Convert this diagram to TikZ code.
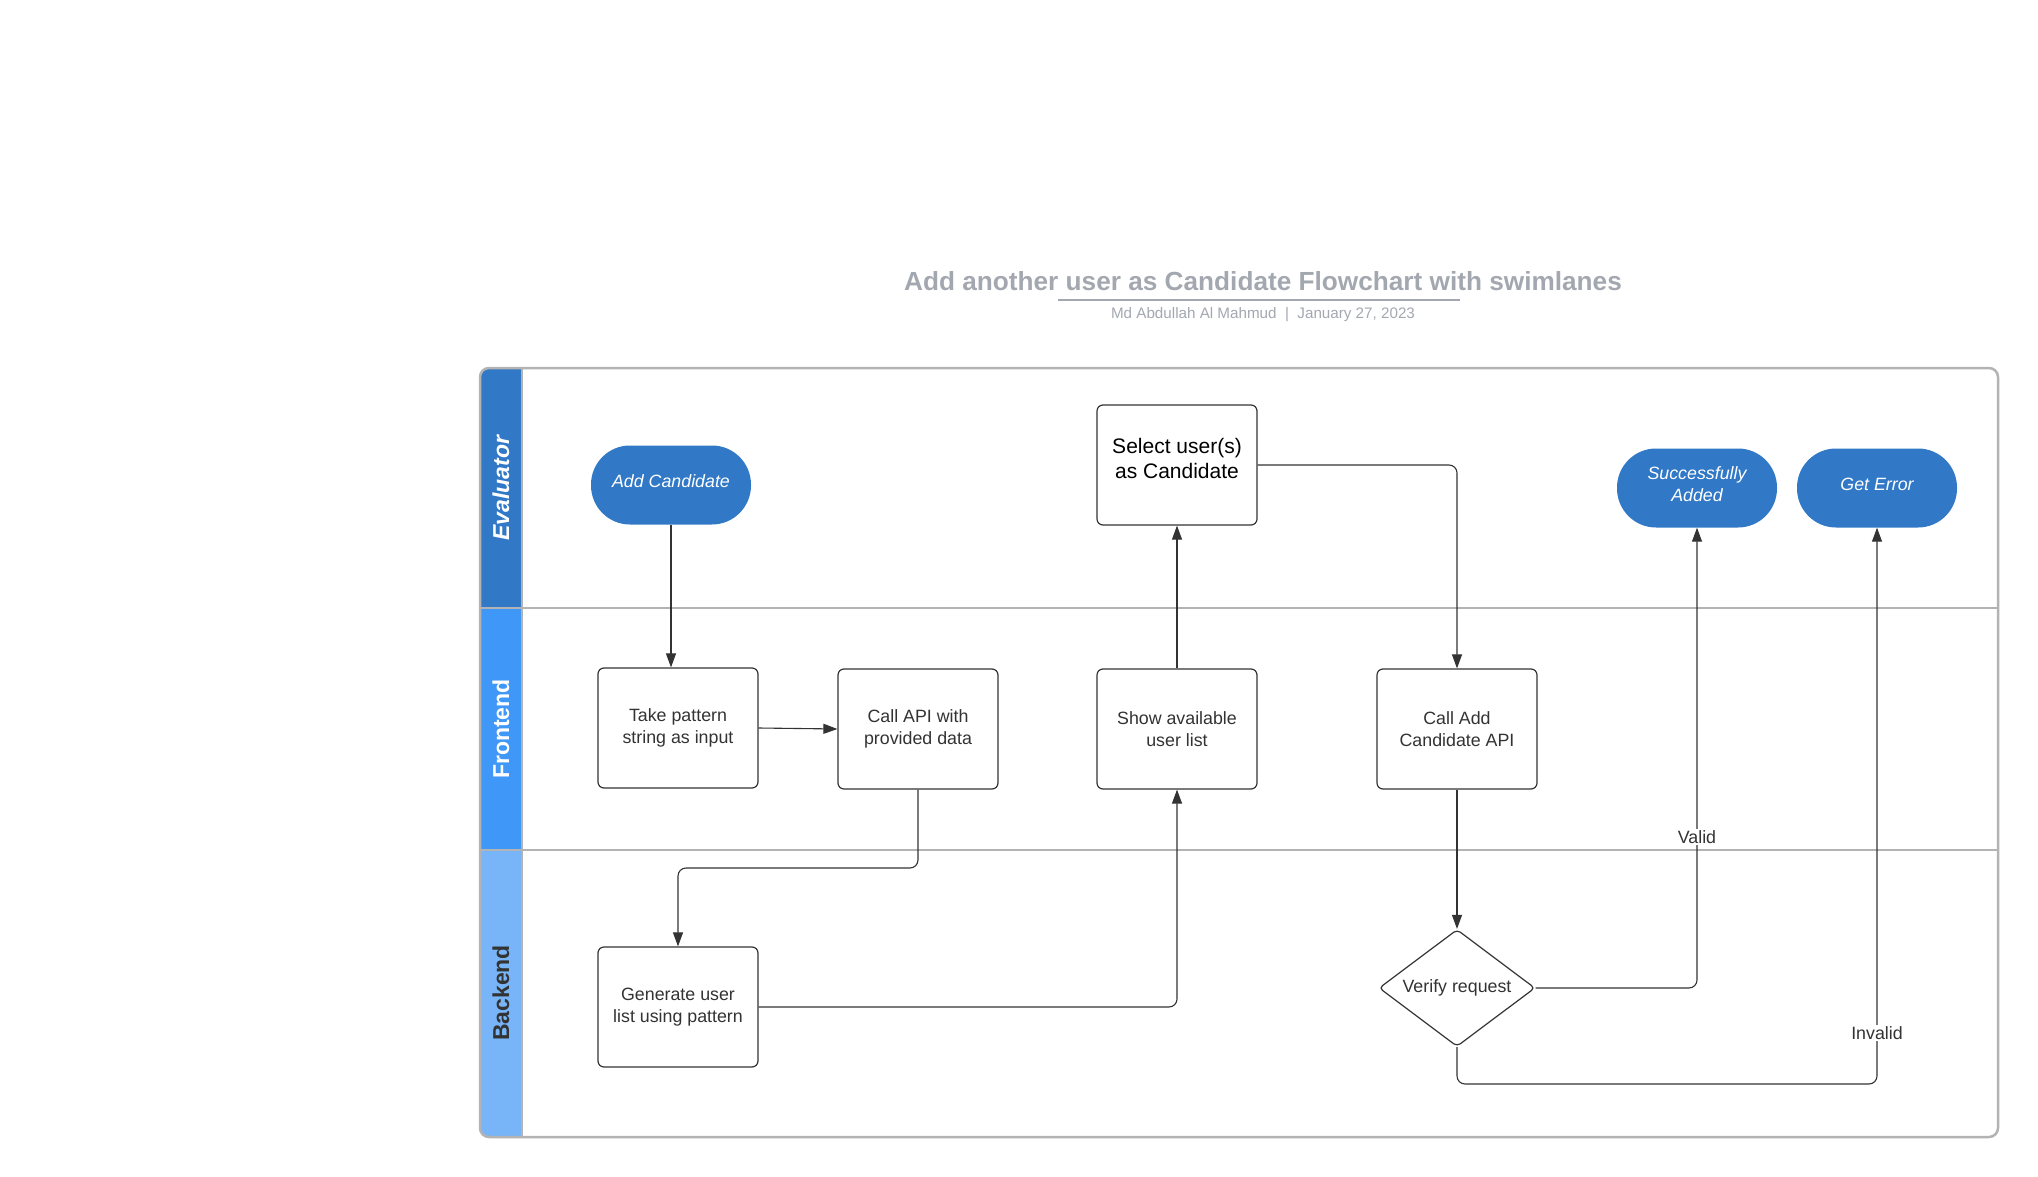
\documentclass[tikz,border=0pt]{standalone}
\usepackage{fontspec}
\setmainfont{Liberation Sans}
\usetikzlibrary{arrows.meta,shapes.geometric,calc}
\definecolor{evalc}{HTML}{3178C6}
\definecolor{frontc}{HTML}{3F97F7}
\definecolor{backc}{HTML}{78B5F8}
\definecolor{framec}{HTML}{B3B3B3}
\definecolor{linec}{HTML}{333333}
\definecolor{titlec}{HTML}{A3A7B0}
\tikzset{
  box/.style={draw=linec, line width=1.2pt, rounded corners=6pt, fill=white,
    minimum width=160pt, minimum height=120pt, align=center, text=linec,
    font=\fontsize{17.8}{21.5}\selectfont, inner sep=2pt},
  term/.style={fill=evalc, rounded corners=39pt, minimum width=160pt, minimum height=79pt,
    align=center, text=white, font=\fontsize{17.8}{21.5}\selectfont\itshape, inner sep=2pt,
    text depth=8pt},
  decision/.style={diamond, draw=linec, line width=1.2pt, rounded corners=4pt, fill=white,
    minimum width=156pt, minimum height=117pt, inner sep=0pt,
    label={[text=linec, font=\fontsize{17.8}{21.5}\selectfont]center:#1}},
  conn/.style={draw=linec, line width=1.1pt, rounded corners=8pt,
    -{Triangle[length=14pt,width=10pt]}},
  lbl/.style={fill=white, text=linec, inner sep=1.5pt, font=\fontsize{17.8}{21.5}\selectfont},
  lanelbl/.style={rotate=90, font=\fontsize{23}{27}\selectfont\bfseries}
}
\begin{document}
\begin{tikzpicture}[x=1pt,y=-1pt]
\useasboundingbox (0,0) rectangle (2038,1177);
% title
\node[text=titlec, font=\fontsize{26.2}{30}\selectfont\bfseries] (title) at (1263,281) {Add another user as Candidate Flowchart with swimlanes};
\draw[titlec, line width=2pt] (1058,300) -- (1460,300);
\node[text=titlec, font=\fontsize{15.2}{18}\selectfont] (sub) at (1263,315) {Md Abdullah Al Mahmud \ |\ \ January 27, 2023};
% pool
\begin{scope}
\clip[rounded corners=9pt] (480,368) rectangle (1998,1137);
\fill[evalc] (480,368) rectangle (522,608);
\fill[frontc] (480,608) rectangle (522,850);
\fill[backc] (480,850) rectangle (522,1137);
\end{scope}
\draw[framec, line width=2pt] (522,368) -- (522,1137);
\draw[framec, line width=2pt] (480,608) -- (1998,608);
\draw[framec, line width=2pt] (480,850) -- (1998,850);
\draw[framec, line width=2.5pt, rounded corners=9pt] (480,368) rectangle (1998,1137);
\node[lanelbl, text=white, font=\fontsize{23}{27}\selectfont\bfseries\itshape] (leval) at (501,488) {Evaluator};
\node[lanelbl, text=white] (lfront) at (501,729) {Frontend};
\node[lanelbl, text=linec] (lback) at (501,993) {Backend};
% nodes
\node[term] (addc) at (671,485) {Add Candidate};
\node[box] (take) at (678,728) {Take pattern\\string as input};
\node[box] (callapi) at (918,729) {Call API with\\provided data};
\node[box, text=black, font=\fontsize{21}{25}\selectfont, text depth=14pt] (sel) at (1177,465) {Select user(s)\\as Candidate};
\node[box] (show) at (1177,729) {Show available\\user list};
\node[box] (calladd) at (1457,729) {Call Add\\Candidate API};
\node[term] (succ) at (1697,488) {Successfully\\Added};
\node[term] (err) at (1877,488) {Get Error};
\node[box] (gen) at (678,1007) {Generate user\\list using pattern};
\node[decision={Verify request}] (verify) at (1457,988) {};
% connectors
\draw[conn] (addc.south) -- (addc.south |- take.north);
\draw[conn] (take.east) -- (callapi.west);
\draw[conn] (callapi.south) -- (callapi.south |- 0,868) -- (gen.north |- 0,868) -- (gen.north);
\draw[conn] (gen.east) -| (show.south);
\draw[conn] (show.north) -- (sel.south);
\draw[conn] (sel.east) -| (calladd.north);
\draw[conn] (calladd.south) -- (verify.north);
\draw[conn] (verify.east) -| (succ.south);
\draw[conn] (verify.south) -- (verify.south |- 0,1084) -- (err.south |- 0,1084) -- (err.south);
\node[lbl] (valid) at (1697,837) {Valid};
\node[lbl] (invalid) at (1877,1033) {Invalid};
\end{tikzpicture}
\end{document}
